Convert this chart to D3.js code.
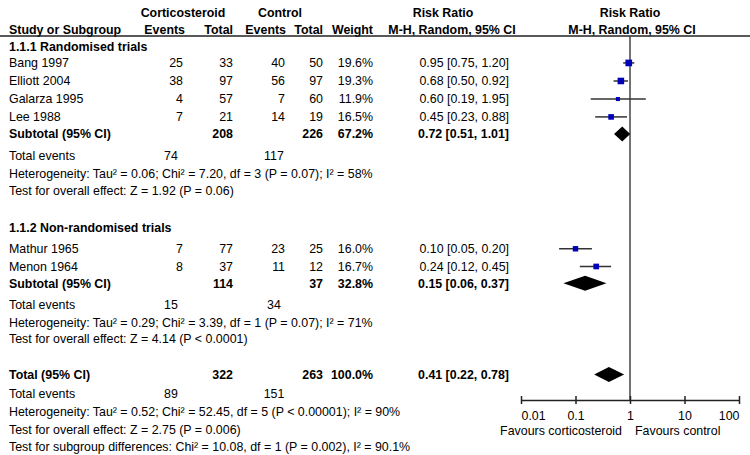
<!DOCTYPE html>
<html>
<head>
<meta charset="utf-8">
<script src="https://cdn.jsdelivr.net/npm/d3@7"></script>
<style>
  body { margin: 0; background: #fff; }
  svg { display: block; font-family: "Liberation Sans", Arial, sans-serif; font-size: 12.4px; fill: #000; }
  .bold { font-weight: bold; }
</style>
</head>
<body>
<div id="forest"></div>
<script>
// studies
const studyNames = ["Bang 1997", "Elliott 2004", "Galarza 1995", "Lee 1988", "Mathur 1965", "Menon 1964"];
const studyGroup = [0, 0, 0, 0, 1, 1];
const cortEvents = [25, 38, 4, 7, 7, 8];
const cortTotal = [33, 97, 57, 21, 77, 37];
const ctrlEvents = [40, 56, 7, 14, 23, 11];
const ctrlTotal = [50, 97, 60, 19, 25, 12];
const weights = [19.6, 19.3, 11.9, 16.5, 16.0, 16.7];
const riskRatio = [0.95, 0.68, 0.60, 0.45, 0.10, 0.24];
const ciLow = [0.75, 0.50, 0.19, 0.23, 0.05, 0.12];
const ciHigh = [1.20, 0.92, 1.95, 0.88, 0.20, 0.45];

// subgroups + overall (last)
const groupNames = ["1.1.1 Randomised trials", "1.1.2 Non-randomised trials"];
const sumLabels = ["Subtotal (95% CI)", "Subtotal (95% CI)", "Total (95% CI)"];
const sumCortTotal = [208, 114, 322];
const sumCtrlTotal = [226, 37, 263];
const sumWeight = [67.2, 32.8, 100.0];
const sumRR = [0.72, 0.15, 0.41];
const sumLow = [0.51, 0.06, 0.22];
const sumHigh = [1.01, 0.37, 0.78];
const sumCortEvents = [74, 15, 89];
const sumCtrlEvents = [117, 34, 151];
const heterogeneity = [
  "Heterogeneity: Tau² = 0.06; Chi² = 7.20, df = 3 (P = 0.07); I² = 58%",
  "Heterogeneity: Tau² = 0.29; Chi² = 3.39, df = 1 (P = 0.07); I² = 71%",
  "Heterogeneity: Tau² = 0.52; Chi² = 52.45, df = 5 (P < 0.00001); I² = 90%"
];
const overallTests = [
  "Test for overall effect: Z = 1.92 (P = 0.06)",
  "Test for overall effect: Z = 4.14 (P < 0.0001)",
  "Test for overall effect: Z = 2.75 (P = 0.006)"
];
const subgroupTest = "Test for subgroup differences: Chi² = 10.08, df = 1 (P = 0.002), I² = 90.1%";

const axisTicks = [0.01, 0.1, 1, 10, 100];
const axisLabels = ["Favours corticosteroid", "Favours control"];

const width = 750, height = 455;

const svg = d3.select("#forest")
  .append("svg")
  .attr("width", width)
  .attr("height", height);

const x = d3.scaleLog().domain([0.01, 100]).range([521, 739]);
const boxSize = d3.scaleLinear().domain([0, 20]).range([0, 6.8]);
const row = d3.scaleLinear().domain([0, 1]).range([47, 64.7]);
const axisY = 400;

// column anchors
const col = { label: 9, cEv: 183, cTot: 233, kEv: 285, kTot: 323, wt: 373, rr: 509, cEvMid: 171, kEvMid: 274 };

function txt(xp, yp, s, anchor, bold) {
  svg.append("text")
    .attr("x", xp).attr("y", yp).attr("dy", "0.35em")
    .attr("text-anchor", anchor || "start")
    .attr("class", bold ? "bold" : null)
    .text(s);
}
const fmt2 = d3.format(".2f");
const ciText = (r, l, h) => `${fmt2(r)} [${fmt2(l)}, ${fmt2(h)}]`;

// header
txt(183, 13, "Corticosteroid", "middle", true);
txt(280, 13, "Control", "middle", true);
txt(443, 13, "Risk Ratio", "middle", true);
txt(630, 13, "Risk Ratio", "middle", true);
txt(col.label, 30, "Study or Subgroup", "start", true);
txt(185, 30, "Events", "end", true);
txt(col.cTot, 30, "Total", "end", true);
txt(286, 30, "Events", "end", true);
txt(col.kTot, 30, "Total", "end", true);
txt(col.wt, 30, "Weight", "end", true);
txt(452, 30, "M-H, Random, 95% CI", "middle", true);
txt(632, 30, "M-H, Random, 95% CI", "middle", true);

svg.append("line")
  .attr("x1", 0).attr("x2", width).attr("y1", 36).attr("y2", 36)
  .attr("stroke", "#222").attr("stroke-width", 1.4);

// row layout (in row units)
const groupLayout = [
  { head: 0, studies: [0.9, 1.92, 2.94, 3.95], sub: 4.92, ev: 6.16, het: 7.18, test: 8.14 },
  { head: 10.18, studies: [11.4, 12.4], sub: 13.35, ev: 14.55, het: 15.55, test: 16.5 }
];
const totalLayout = { sub: 18.5, ev: 19.6, het: 20.6, test: 21.6, sg: 22.6 };

// vertical line of no effect
svg.append("line")
  .attr("x1", x(1)).attr("x2", x(1)).attr("y1", 36).attr("y2", axisY)
  .attr("stroke", "#444").attr("stroke-width", 1.5);

function diamond(i, yp) {
  const h = 7.5;
  const pts = [[x(sumLow[i]), yp], [x(sumRR[i]), yp - h], [x(sumHigh[i]), yp], [x(sumRR[i]), yp + h]];
  svg.append("polygon").attr("points", pts.map(p => p.join(",")).join(" ")).attr("fill", "#000");
}

function summaryRows(i, L) {
  const ys = row(L.sub);
  txt(col.label, ys, sumLabels[i], "start", true);
  txt(col.cTot, ys, sumCortTotal[i], "end", true);
  txt(col.kTot, ys, sumCtrlTotal[i], "end", true);
  txt(col.wt, ys, sumWeight[i].toFixed(1) + "%", "end", true);
  txt(col.rr, ys, ciText(sumRR[i], sumLow[i], sumHigh[i]), "end", true);
  diamond(i, ys);
  txt(col.label, row(L.ev), "Total events");
  txt(col.cEvMid, row(L.ev), sumCortEvents[i], "middle");
  txt(col.kEvMid, row(L.ev), sumCtrlEvents[i], "middle");
  txt(col.label, row(L.het), heterogeneity[i]);
  txt(col.label, row(L.test), overallTests[i]);
}

groupLayout.forEach((L, g) => {
  txt(col.label, row(L.head), groupNames[g], "start", true);
  const idx = studyNames.map((n, i) => i).filter(i => studyGroup[i] === g);
  idx.forEach((i, k) => {
    const ys = row(L.studies[k]);
    txt(col.label, ys, studyNames[i]);
    txt(col.cEv, ys, cortEvents[i], "end");
    txt(col.cTot, ys, cortTotal[i], "end");
    txt(col.kEv, ys, ctrlEvents[i], "end");
    txt(col.kTot, ys, ctrlTotal[i], "end");
    txt(col.wt, ys, weights[i].toFixed(1) + "%", "end");
    txt(col.rr, ys, ciText(riskRatio[i], ciLow[i], ciHigh[i]), "end");
    svg.append("line")
      .attr("x1", x(ciLow[i])).attr("x2", x(ciHigh[i]))
      .attr("y1", ys).attr("y2", ys)
      .attr("stroke", "#333").attr("stroke-width", 1.5);
    const s = boxSize(weights[i]);
    svg.append("rect")
      .attr("x", x(riskRatio[i]) - s / 2).attr("y", ys - s / 2)
      .attr("width", s).attr("height", s)
      .attr("fill", "#0000bb");
  });
  summaryRows(g, L);
});

summaryRows(2, totalLayout);
txt(col.label, row(totalLayout.sg), subgroupTest);

// axis
const axis = d3.axisBottom(x)
  .tickValues(axisTicks)
  .tickFormat(d => String(d))
  .tickSizeInner(4)
  .tickSizeOuter(0)
  .tickPadding(7);
const gAxis = svg.append("g")
  .attr("transform", `translate(0,${axisY})`)
  .call(axis);
gAxis.select(".domain").attr("stroke", "#222").attr("stroke-width", 1.5);
gAxis.selectAll(".tick line").attr("y1", -4).attr("stroke", "#222").attr("stroke-width", 1.5);
gAxis.selectAll(".tick text")
  .attr("fill", "#000")
  .attr("text-anchor", (d, i) => i === 0 ? "start" : i === axisTicks.length - 1 ? "end" : "middle")
  .style("font-family", "'Liberation Sans', Arial, sans-serif")
  .style("font-size", "12.4px");

txt(622, 431, axisLabels[0], "end");
txt(635, 431, axisLabels[1], "start");
</script>
</body>
</html>
